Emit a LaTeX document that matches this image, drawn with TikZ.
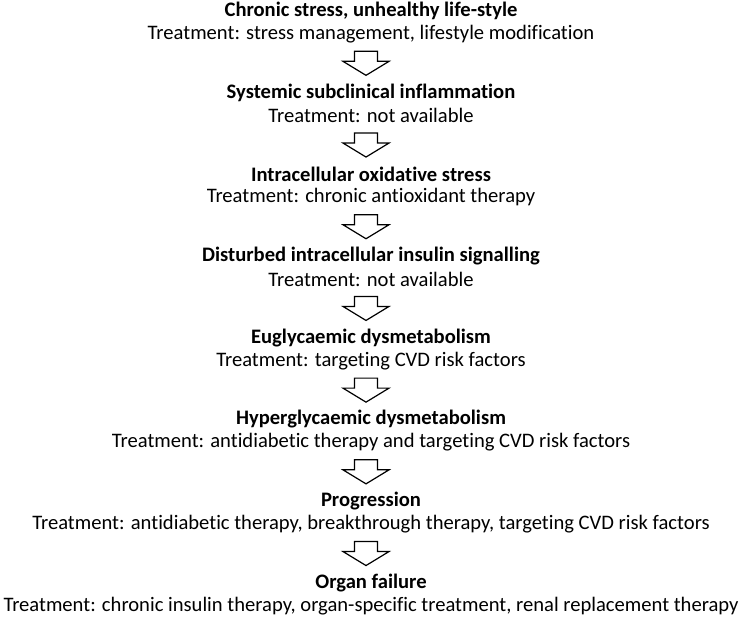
\documentclass[tikz,border=0pt]{standalone}
\usepackage{fontspec}
\setmainfont{Carlito}[Ligatures=NoCommon]
\usetikzlibrary{calc}

\tikzset{
  stage/.style={inner sep=0pt,font=\bfseries\fontsize{20.6}{24}\selectfont},
  therapy/.style={inner sep=0pt,font=\fontsize{20.6}{24}\selectfont},
  downarrow/.pic={
    \draw[line width=1.2pt,line join=miter,fill=white]
      (-11.5,12) -- (11.5,12) -- (11.5,2) -- (23,2) -- (0,-12) -- (-23,2) -- (-11.5,2) -- cycle;
  }
}

\begin{document}
\begin{tikzpicture}[x=1pt,y=1pt]
            \useasboundingbox (0,0) rectangle (742,-617);

            % Stages
            \node[stage] (title1) at (371,-11) {Chronic stress, unhealthy life-style};
            \node[stage] (title2) at (371,-92.7) {Systemic subclinical inflammation};
            \node[stage] (title3) at (371,-174.4) {Intracellular oxidative stress};
            \node[stage] (title4) at (371,-256.1) {Disturbed intracellular insulin signalling};
            \node[stage] (title5) at (371,-337.8) {Euglycaemic dysmetabolism};
            \node[stage] (title6) at (371,-419.5) {Hyperglycaemic dysmetabolism};
            \node[stage] (title7) at (371,-501.2) {Progression};
            \node[stage] (title8) at (371,-582.9) {Organ failure};

            % Treatments
            \node[therapy] (treat1) at (371,-34) {Treatment: stress management, lifestyle modification};
            \node[therapy] (treat2) at (371,-115.7) {Treatment: not available};
            \node[therapy] (treat3) at (371,-197.4) {Treatment: chronic antioxidant therapy};
            \node[therapy] (treat4) at (371,-279.1) {Treatment: not available};
            \node[therapy] (treat5) at (371,-360.8) {Treatment: targeting CVD risk factors};
            \node[therapy] (treat6) at (371,-442.5) {Treatment: antidiabetic therapy and targeting CVD risk factors};
            \node[therapy] (treat7) at (371,-524.2) {Treatment: antidiabetic therapy, breakthrough therapy, targeting CVD risk factors};
            \node[therapy] (treat8) at (371,-605.9) {Treatment: chronic insulin therapy, organ-specific treatment, renal replacement therapy};

            % Block arrows between the stages
            \foreach \i [evaluate=\i as \j using int(\i+1)] in {1,...,7}
              \pic at ($(treat\i)!0.5!(title\j)+(-5,0)$) {downarrow};

        \end{tikzpicture}
\end{document}
